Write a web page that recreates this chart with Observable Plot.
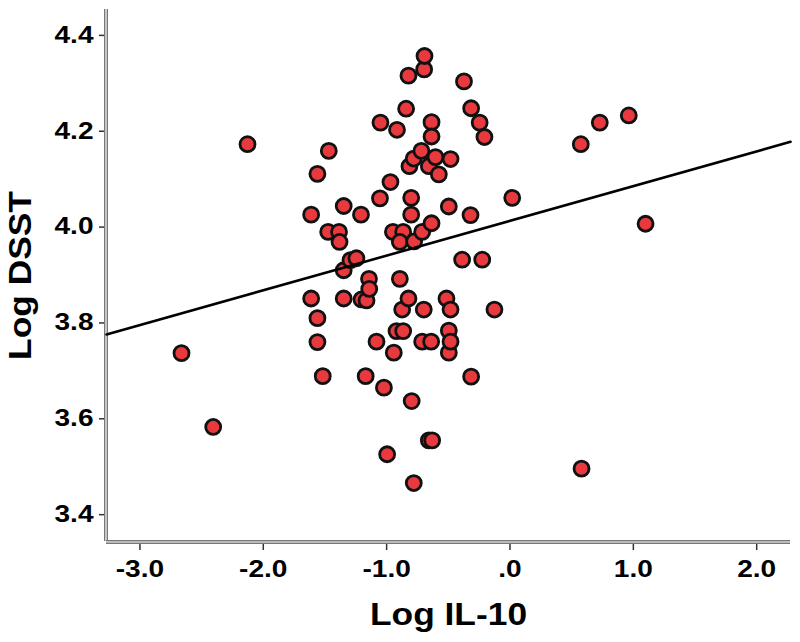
<!DOCTYPE html>
<html><head><meta charset="utf-8">
<script src="https://cdn.jsdelivr.net/npm/d3@7"></script>
<script src="https://cdn.jsdelivr.net/npm/@observablehq/plot@0.6"></script>
<style>
  html, body { margin: 0; padding: 0; background: #fff; }
  #chart svg { display: block; }
</style>
</head><body><div id="chart"></div>
<script>
// Data (Log IL-10 vs Log DSST)
const logIL10 = [
  -2.663, -2.406, -2.128, -1.612, -1.612, -1.561, -1.561, -1.561, -1.518, -1.469,
  -1.474, -1.386, -1.382, -1.348, -1.348, -1.348, -1.293, -1.245, -1.208, -1.204,
  -1.163, -1.170, -1.143, -1.141, -1.082, -1.050, -1.054, -1.022, -0.996, -0.969,
  -0.949, -0.866, -0.942, -0.920, -0.866, -0.916, -0.893, -0.893, -0.874, -0.842,
  -0.823, -0.823, -0.815, -0.801, -0.801, -0.797, -0.780, -0.777, -0.780, -0.718,
  -0.712, -0.712, -0.699, -0.696, -0.693, -0.658, -0.658, -0.631, -0.639, -0.636,
  -0.636, -0.636, -0.604, -0.577, -0.515, -0.496, -0.496, -0.496, -0.482, -0.482,
  -0.482, -0.388, -0.373, -0.320, -0.315, -0.315, -0.246, -0.225, -0.207, -0.126,
  0.018, 0.574, 0.580, 0.728, 0.963, 1.099
];
const logDSST = [
  3.737, 3.583, 4.173, 4.026, 3.851, 4.111, 3.810, 3.760, 3.689, 4.159,
  3.990, 3.990, 3.969, 4.044, 3.910, 3.851, 3.931, 3.935, 4.026, 3.849,
  3.847, 3.689, 3.892, 3.871, 3.761, 4.218, 4.060, 3.665, 3.526, 4.094,
  3.990, 3.990, 3.738, 3.783, 3.783, 4.203, 3.969, 3.892, 3.828, 4.247,
  3.851, 4.316, 4.127, 4.061, 4.026, 3.637, 4.143, 3.970, 3.466, 4.159,
  3.990, 3.761, 3.828, 4.329, 4.357, 4.127, 3.555, 3.555, 3.761, 4.219,
  4.189, 4.008, 4.146, 4.110, 3.851, 4.043, 3.784, 3.738, 4.142, 3.828,
  3.761, 3.932, 4.304, 4.025, 4.248, 3.688, 4.218, 3.932, 4.188, 3.828,
  4.061, 4.173, 3.496, 4.218, 4.233, 4.007
];
const xTicks = [-3, -2, -1, 0, 1, 2];
const xTickLabels = ["-3.0", "-2.0", "-1.0", ".0", "1.0", "2.0"];
const yTicks = [3.4, 3.6, 3.8, 4.0, 4.2, 4.4];
const yTickLabels = ["3.4", "3.6", "3.8", "4.0", "4.2", "4.4"];
const xDomain = [-3.271, 2.274];
const yDomain = [3.344, 4.454];
const fitIntercept = 4.013;
const fitSlope = 0.0725;
const xTitle = "Log IL-10";
const yTitle = "Log DSST";

const points = logIL10.map((x, i) => ({x, y: logDSST[i]}));
const fit = xDomain.map(x => ({x, y: fitIntercept + fitSlope * x}));

const font = "'Liberation Sans', Arial, Helvetica, sans-serif";

const chart = Plot.plot({
  width: 800,
  height: 642,
  marginLeft: 106,
  marginRight: 10,
  marginTop: 9,
  marginBottom: 101,
  x: {domain: xDomain},
  y: {domain: yDomain},
  style: {fontFamily: font, background: "#fff", color: "#000", overflow: "visible"},
  marks: [
    Plot.axisX({
      ticks: xTicks,
      tickFormat: d => xTickLabels[xTicks.indexOf(d)],
      tickSize: 9, tickPadding: 10,
      fontSize: 23, fontWeight: "bold",
      stroke: "#333", strokeWidth: 1.5,
      label: null
    }),
    Plot.axisY({
      ticks: yTicks,
      tickFormat: d => yTickLabels[yTicks.indexOf(d)],
      tickSize: 7, tickPadding: 6,
      fontSize: 23, fontWeight: "bold",
      stroke: "#333", strokeWidth: 1.5,
      label: null
    }),
    // double-line axis frame
    Plot.ruleX([xDomain[0]], {stroke: "#777", strokeWidth: 4, dx: -0.5}),
    Plot.ruleX([xDomain[0]], {stroke: "#fff", strokeWidth: 1.2, dx: -0.5}),
    Plot.ruleY([yDomain[0]], {stroke: "#777", strokeWidth: 4, dy: 0.5}),
    Plot.ruleY([yDomain[0]], {stroke: "#fff", strokeWidth: 1.2, dy: 0.5}),
    Plot.dot(points, {x: "x", y: "y", r: 7.5, fill: "#e8393e", stroke: "#111", strokeWidth: 2.8}),
    Plot.line(fit, {x: "x", y: "y", stroke: "#000", strokeWidth: 2.6}),
    Plot.text([yTitle], {text: d => d, frameAnchor: "left", dx: -85, rotate: -90,
      textAnchor: "middle", lineAnchor: "middle",
      fontSize: 31, fontWeight: "bold"}),
    Plot.text([xTitle], {text: d => d, frameAnchor: "bottom", dy: 74,
      textAnchor: "middle", lineAnchor: "middle",
      fontSize: 31, fontWeight: "bold"})
  ]
});

document.getElementById("chart").appendChild(chart);

// The reference typeface is a horizontally widened Helvetica Bold: widen the glyphs
chart.querySelectorAll("text").forEach(t => {
  const w = t.getComputedTextLength();
  if (w > 0) {
    const big = parseFloat(getComputedStyle(t).fontSize) > 26;
    t.setAttribute("textLength", (w * (big ? 1.14 : 1.22)).toFixed(1));
    t.setAttribute("lengthAdjust", "spacingAndGlyphs");
  }
});
</script>
</body></html>
